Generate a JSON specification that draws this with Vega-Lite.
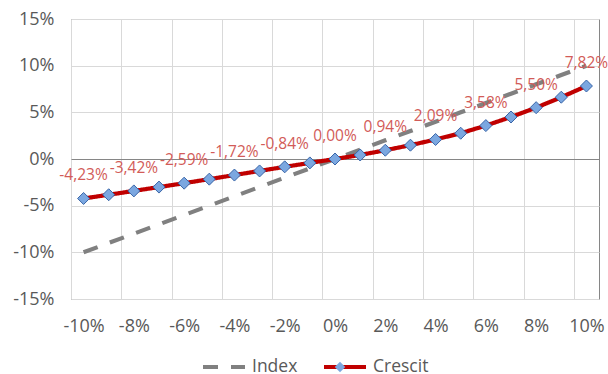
{
  "$schema": "https://vega.github.io/schema/vega-lite/v6.json",
  "width": 528,
  "height": 280,
  "autosize": {"type": "none"},
  "padding": {"left": 71, "top": 19, "right": 9, "bottom": 75},
  "background": "white",
  "data": {
    "values": [
      {"x": -0.10, "Index": -0.10, "Crescit": -0.0423},
      {"x": -0.09, "Index": -0.09, "Crescit": -0.0383},
      {"x": -0.08, "Index": -0.08, "Crescit": -0.0342},
      {"x": -0.07, "Index": -0.07, "Crescit": -0.0301},
      {"x": -0.06, "Index": -0.06, "Crescit": -0.0259},
      {"x": -0.05, "Index": -0.05, "Crescit": -0.0216},
      {"x": -0.04, "Index": -0.04, "Crescit": -0.0172},
      {"x": -0.03, "Index": -0.03, "Crescit": -0.0128},
      {"x": -0.02, "Index": -0.02, "Crescit": -0.0084},
      {"x": -0.01, "Index": -0.01, "Crescit": -0.0042},
      {"x": 0, "Index": 0, "Crescit": 0},
      {"x": 0.01, "Index": 0.01, "Crescit": 0.0043},
      {"x": 0.02, "Index": 0.02, "Crescit": 0.0094},
      {"x": 0.03, "Index": 0.03, "Crescit": 0.0148},
      {"x": 0.04, "Index": 0.04, "Crescit": 0.0209},
      {"x": 0.05, "Index": 0.05, "Crescit": 0.0276},
      {"x": 0.06, "Index": 0.06, "Crescit": 0.0358},
      {"x": 0.07, "Index": 0.07, "Crescit": 0.0450},
      {"x": 0.08, "Index": 0.08, "Crescit": 0.0550},
      {"x": 0.09, "Index": 0.09, "Crescit": 0.0662},
      {"x": 0.10, "Index": 0.10, "Crescit": 0.0782}
    ]
  },
  "encoding": {
    "x": {
      "field": "x",
      "type": "quantitative",
      "scale": {"domain": [-0.105, 0.105], "nice": false, "zero": false},
      "axis": {
        "title": null,
        "values": [-0.105, -0.085, -0.065, -0.045, -0.025, -0.005, 0.015, 0.035, 0.055, 0.075, 0.095],
        "labelExpr": "format(datum.value + 0.005, '.0%')",
        "labelOffset": 12.57,
        "grid": true,
        "gridColor": "#d9d9d9",
        "ticks": false,
        "domain": false,
        "labelPadding": 18,
        "labelFont": "Open Sans",
        "labelFontSize": 18,
        "labelColor": "#595959",
        "labelFlush": false,
        "labelOverlap": false
      }
    }
  },
  "layer": [
    {
      "transform": [{"fold": ["Index", "Crescit"], "as": ["series", "value"]}],
      "mark": {"type": "line", "strokeWidth": 4.2, "strokeCap": "butt", "strokeJoin": "round"},
      "encoding": {
        "y": {
          "field": "value",
          "type": "quantitative",
          "scale": {"domain": [-0.15, 0.15], "nice": false},
          "axis": {
            "title": null,
            "values": [-0.15, -0.1, -0.05, 0, 0.05, 0.1, 0.15],
            "format": ".0%",
            "grid": true,
            "gridColor": {"expr": "datum.value === 0 ? '#868686' : '#d9d9d9'"},
            "ticks": false,
            "domain": false,
            "labelPadding": 17,
            "labelFont": "Open Sans",
            "labelFontSize": 18,
            "labelColor": "#595959"
          }
        },
        "color": {
          "field": "series",
          "type": "nominal",
          "scale": {"domain": ["Index", "Crescit"], "range": ["#808080", "#C00000"]},
          "legend": {
            "title": null,
            "orient": "none",
            "legendX": 130,
            "legendY": 325,
            "padding": 0,
            "gridAlign": "none",
            "direction": "horizontal",
            "symbolType": "stroke",
            "symbolSize": 1764,
            "symbolStrokeWidth": 4,
            "labelFont": "Open Sans",
            "labelFontSize": 17.5,
            "labelColor": "#595959",
            "labelOffset": 5,
            "columnPadding": 18
          }
        },
        "strokeDash": {
          "field": "series",
          "type": "nominal",
          "scale": {"domain": ["Index", "Crescit"], "range": [[15, 13], [1, 0]]},
          "legend": {
            "title": null,
            "orient": "none",
            "legendX": 130,
            "legendY": 325,
            "padding": 0,
            "gridAlign": "none",
            "direction": "horizontal",
            "symbolType": "stroke",
            "symbolSize": 1764,
            "symbolStrokeWidth": 4,
            "labelFont": "Open Sans",
            "labelFontSize": 17.5,
            "labelColor": "#595959",
            "labelOffset": 5,
            "columnPadding": 18
          }
        }
      }
    },
    {
      "mark": {"type": "point", "filled": true, "fill": "#7BA7E0", "stroke": "#3A66A8", "strokeWidth": 1, "size": 144, "opacity": 1},
      "encoding": {
        "y": {"field": "Crescit", "type": "quantitative"},
        "shape": {
          "datum": "Crescit",
          "type": "nominal",
          "scale": {"range": ["diamond"]},
          "legend": {
            "title": null,
            "orient": "none",
            "legendX": 263,
            "legendY": 342,
            "padding": 0,
            "symbolSize": 110,
            "symbolFillColor": "#7BA7E0",
            "symbolStrokeColor": "#3A66A8",
            "symbolStrokeWidth": 1,
            "labelExpr": "''"
          }
        }
      }
    },
    {
      "transform": [{"filter": "round(datum.x * 100) % 2 === 0"}],
      "mark": {"type": "text", "font": "Open Sans", "fontSize": 15.5, "color": "#D25B58", "align": "center", "baseline": "middle", "dy": -23},
      "encoding": {
        "y": {"field": "Crescit", "type": "quantitative"},
        "text": {"field": "Crescit", "type": "quantitative", "format": ".2%"}
      }
    }
  ],
  "config": {
    "view": {"stroke": "#868686", "strokeWidth": 1},
    "locale": {
      "number": {"decimal": ",", "thousands": ".", "grouping": [3], "currency": ["", " €"], "minus": "-"}
    }
  }
}
